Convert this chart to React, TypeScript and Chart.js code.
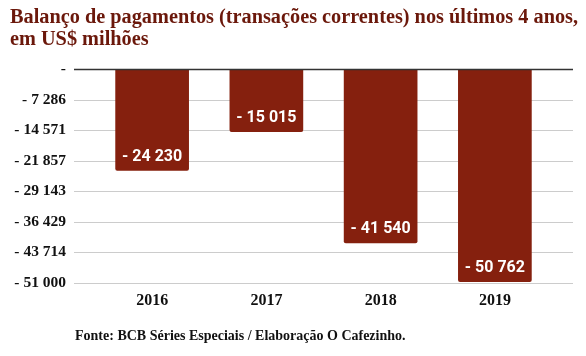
import React, { useEffect, useRef } from "react";
import { Chart, registerables } from "chart.js";

Chart.register(...registerables);

const categories = ["2016", "2017", "2018", "2019"];
const values = [-24230, -15015, -41540, -50762];
const valueLabels = ["- 24 230", "- 15 015", "- 41 540", "- 50 762"];
const tickValues = [0, -7286, -14571, -21857, -29143, -36429, -43714, -51000];
const tickLabels = ["-", "- 7 286", "- 14 571", "- 21 857", "- 29 143", "- 36 429", "- 43 714", "- 51 000"];
const titleLines = [
  "Balanço de pagamentos (transações correntes) nos últimos 4 anos,",
  "em US$ milhões",
];
const footerText = "Fonte: BCB Séries Especiais / Elaboração O Cafezinho.";

const BAR = "#85200e";
const TITLE = "#6b180b";
const SERIF = '"Liberation Serif", "Times New Roman", serif';

const decorPlugin = {
  id: "decor",
  beforeDatasetsDraw(chart: any) {
    const { ctx } = chart;
    const y = chart.scales.y;
    ctx.save();
    ctx.lineWidth = 1;
    ctx.strokeStyle = "#cccccc";
    tickValues.forEach((v) => {
      if (v === 0) return;
      const py = Math.round(y.getPixelForValue(v)) + 0.5;
      ctx.beginPath();
      ctx.moveTo(74, py);
      ctx.lineTo(573, py);
      ctx.stroke();
    });
    ctx.restore();
  },
  afterDatasetsDraw(chart: any) {
    const { ctx } = chart;
    const y = chart.scales.y;
    ctx.save();
    const py0 = Math.round(y.getPixelForValue(0)) + 0.5;
    ctx.strokeStyle = "#333333";
    ctx.lineWidth = 1.5;
    ctx.beginPath();
    ctx.moveTo(74, py0);
    ctx.lineTo(573, py0);
    ctx.stroke();
    const meta = chart.getDatasetMeta(0);
    ctx.fillStyle = "#ffffff";
    ctx.font = 'bold 16px Roboto, "Liberation Sans", sans-serif';
    ctx.textAlign = "center";
    ctx.textBaseline = "middle";
    meta.data.forEach((bar: any, i: number) => {
      ctx.fillText(valueLabels[i], bar.x, bar.y - 14);
    });
    ctx.fillStyle = TITLE;
    ctx.font = `bold 20.3px ${SERIF}`;
    ctx.textAlign = "left";
    titleLines.forEach((t, i) => ctx.fillText(t, 10, 18 + i * 22));
    ctx.fillStyle = "#111111";
    ctx.font = `bold 14px ${SERIF}`;
    ctx.fillText(footerText, 75, 336);
    ctx.restore();
  },
};

export default function App() {
  const ref = useRef<HTMLCanvasElement>(null);
  useEffect(() => {
    document.body.style.margin = "0";
    const chart = new Chart(ref.current as HTMLCanvasElement, {
      type: "bar",
      data: {
        labels: categories,
        datasets: [
          {
            data: values,
            backgroundColor: BAR,
            borderRadius: 2,
            borderSkipped: "start",
            barPercentage: 0.645,
            categoryPercentage: 1,
          },
        ],
      },
      options: {
        responsive: false,
        animation: false,
        layout: { padding: { top: 69, left: 0, right: 34, bottom: 0 } },
        plugins: { legend: { display: false }, tooltip: { enabled: false } },
        scales: {
          x: {
            grid: { display: false, drawTicks: false },
            border: { display: false },
            ticks: {
              color: "#111111",
              font: { family: SERIF, size: 16, weight: "bold" },
              padding: 8,
            },
            afterFit(s: any) {
              s.height = 73;
            },
          },
          y: {
            min: -51000,
            max: 0,
            grid: { display: false, drawTicks: false },
            border: { display: false },
            afterBuildTicks(s: any) {
              s.ticks = tickValues.map((v) => ({ value: v }));
            },
            ticks: {
              color: "#111111",
              font: { family: SERIF, size: 15.5, weight: "bold" },
              padding: 29,
              callback: (_v: any, i: number) => tickLabels[i],
            },
            afterFit(s: any) {
              s.width = 95;
            },
          },
        },
      },
      plugins: [decorPlugin],
    });
    return () => chart.destroy();
  }, []);
  return (
    <div style={{ width: 586, height: 356 }}>
      <canvas ref={ref} width={586} height={356} style={{ width: 586, height: 356, display: "block" }} />
    </div>
  );
}
